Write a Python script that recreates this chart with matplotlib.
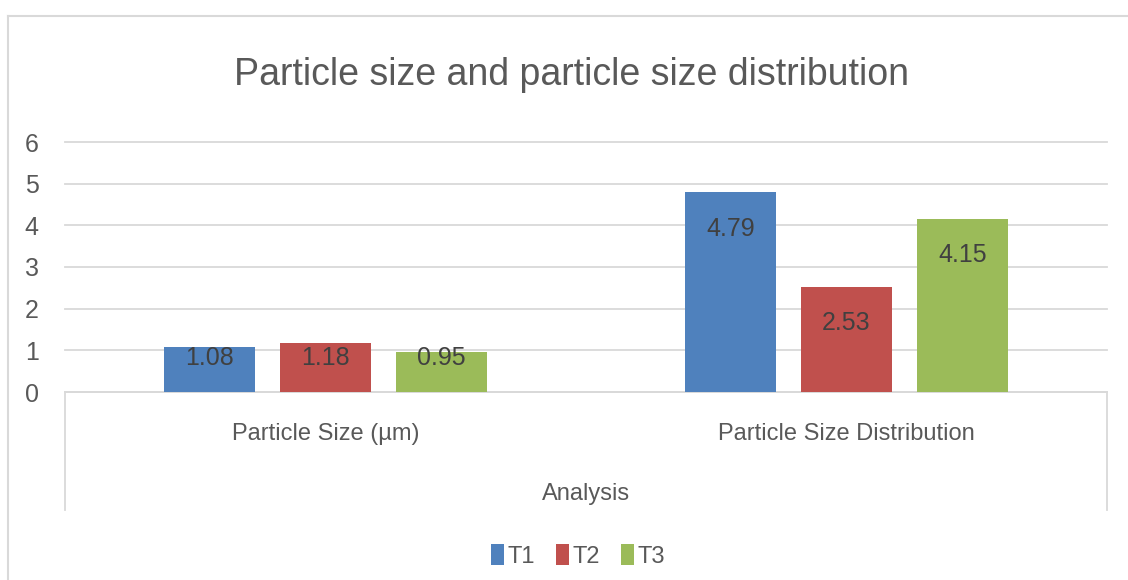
import matplotlib.pyplot as plt
import numpy as np
from matplotlib.patches import Patch
from matplotlib.lines import Line2D

categories = ["Particle Size (\u00b5m)", "Particle Size Distribution"]
series_names = ["T1", "T2", "T3"]
t1 = [1.08, 4.79]
t2 = [1.18, 2.53]
t3 = [0.95, 4.15]
colors = ["#4F81BD", "#C0504D", "#9BBB59"]

plt.rcParams['font.family'] = ['Liberation Sans', 'DejaVu Sans']
text_col = "#595959"
grid_col = "#D9D9D9"

fig = plt.figure(figsize=(11.28, 5.8), dpi=100)
ax = fig.add_axes([65 / 1128, 1 - 392 / 580, (1107 - 65) / 1128, 250 / 580])

x = np.arange(len(categories))
width = 0.175
step = 0.223
for i, (vals, name) in enumerate(zip([t1, t2, t3], series_names)):
    pos = x + (i - 1) * step
    ax.bar(pos, vals, width, color=colors[i], label=name, zorder=3)
    for p, v in zip(pos, vals):
        ly = max(v - 0.87, 0.82)
        ax.text(p, ly, f"{v:.2f}", ha="center", va="center",
                fontsize=18, color="#404040", zorder=4)

ax.set_xlim(-0.5, 1.5)
ax.set_ylim(0, 6)
ax.set_yticks(range(0, 7))
ax.yaxis.grid(True, color=grid_col, lw=1.3, zorder=0)
for gl in ax.get_ygridlines():
    gl.set_clip_on(False)
ax.tick_params(axis="y", length=0, pad=19, labelsize=18, labelcolor=text_col)
ax.set_xticks(x)
ax.set_xticklabels(categories)
ax.tick_params(axis="x", length=0, pad=22, labelsize=17, labelcolor=text_col)
for s in ["top", "right", "left"]:
    ax.spines[s].set_visible(False)
ax.spines["bottom"].set_color(grid_col)
ax.spines["bottom"].set_linewidth(1.3)

# category box edges
for xe in [0, 1]:
    ax.plot([xe, xe], [0, -118 / 250], transform=ax.transAxes, color=grid_col,
            lw=1.3, clip_on=False)

ax.set_xlabel("Analysis", fontsize=17, color=text_col, labelpad=28)

fig.text(572 / 1128, 1 - 75 / 580, "Particle size and particle size distribution",
         ha="center", va="center", fontsize=27, color=text_col)

handles = [Patch(facecolor=c, label=n) for c, n in zip(colors, series_names)]
fig.legend(handles=handles, loc="center", bbox_to_anchor=(578 / 1128, 1 - 556 / 580),
           ncol=3, frameon=False, fontsize=17, labelcolor=text_col,
           handlelength=0.55, handleheight=1.0, handletextpad=0.15, columnspacing=0.9)

# chart border
fig.add_artist(Line2D([8 / 1128, 8 / 1128], [0, 1 - 16 / 580], color=grid_col, lw=1.5))
fig.add_artist(Line2D([8 / 1128, 1], [1 - 16 / 580, 1 - 16 / 580], color=grid_col, lw=1.5))

fig.savefig("out.png", dpi=100)
